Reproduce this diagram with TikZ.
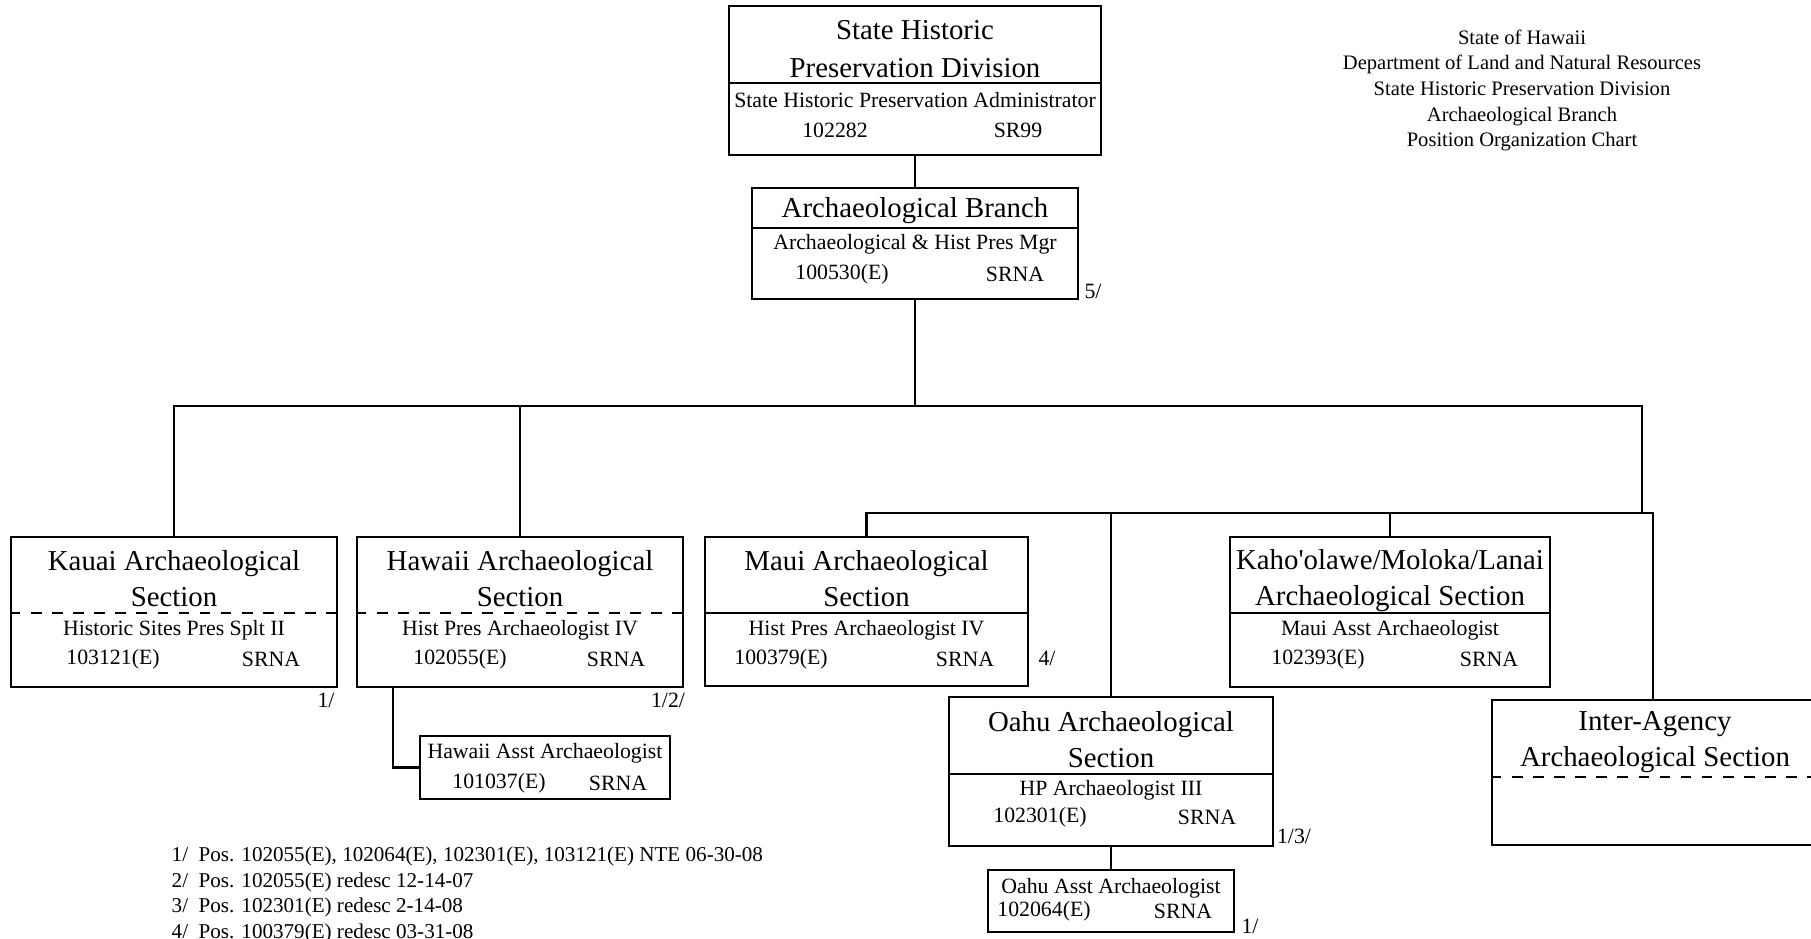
\documentclass[tikz,border=0pt]{standalone}
\usepackage{fontspec}
\setmainfont{Liberation Serif}
\tikzset{box/.style={rectangle,draw,semithick,inner sep=0pt}}
\tikzset{ttl/.style={align=center,inner sep=0pt,font=\fontsize{8.2}{10.2}\selectfont}}
\tikzset{sub/.style={inner sep=0pt,font=\fontsize{6.2}{7.4}\selectfont}}
\tikzset{hdr/.style={align=center,inner sep=0pt,font=\fontsize{5.85}{7.3}\selectfont}}
\tikzset{fn/.style={align=left,anchor=west,inner sep=0pt,font=\fontsize{6}{7.25}\selectfont}}
\tikzset{wire/.style={semithick}}
\tikzset{divider/.style={thin}}

\begin{document}
\begin{tikzpicture}[x=0.01cm,y=-0.01cm]
\useasboundingbox (0,0) rectangle (1811,938);

% heading
\node[hdr] (head) at (1522,90.5) {State of Hawaii\\Department of Land and Natural Resources\\State Historic Preservation Division\\Archaeological Branch\\Position Organization Chart};

% division
\node[box,minimum width=3.72cm,minimum height=1.49cm] (shpd) at (915,80.5) {};
\node[ttl,font=\fontsize{8.2}{11}\selectfont] (shpdT) at (915,49) {State Historic\\Preservation Division};
\draw[divider] (shpd.west |- 0,83) -- (shpd.east |- 0,83);
\node[sub] (shpdP) at (915,100) {State Historic Preservation Administrator};
\node[sub] (shpdN) at (835,130) {102282};
\node[sub] (shpdC) at (1018,130) {SR99};

% branch
\node[box,minimum width=3.26cm,minimum height=1.11cm] (branch) at (915,243.5) {};
\node[ttl] (branchT) at (915,211) {Archaeological Branch};
\draw[divider] (branch.west |- 0,228) -- (branch.east |- 0,228);
\node[sub] (branchP) at (915,244) {Archaeological \& Hist Pres Mgr};
\node[sub] (branchN) at (842,274) {100530(E)};
\node[sub] (branchC) at (1015,274) {SRNA};
\node[sub] (note5) at (1093,291) {5/};

% kauai
\node[box,minimum width=3.26cm,minimum height=1.5cm] (kauai) at (174,612) {};
\node[ttl] (kauaiT) at (174,579) {Kauai Archaeological\\Section};
\draw[divider,dashed] (kauai.west |- 0,613) -- (kauai.east |- 0,613);
\node[sub] (kauaiP) at (174,630) {Historic Sites Pres Splt II};
\node[sub] (kauaiN) at (113,659) {103121(E)};
\node[sub] (kauaiC) at (271,659) {SRNA};
\node[sub] (noteK) at (326,700) {1/};

% hawaii
\node[box,minimum width=3.26cm,minimum height=1.5cm] (hawaii) at (520,612) {};
\node[ttl] (hawaiiT) at (520,579) {Hawaii Archaeological\\Section};
\draw[divider,dashed] (hawaii.west |- 0,613) -- (hawaii.east |- 0,613);
\node[sub] (hawaiiP) at (520,630) {Hist Pres Archaeologist IV};
\node[sub] (hawaiiN) at (460,659) {102055(E)};
\node[sub] (hawaiiC) at (616,659) {SRNA};
\node[sub] (noteH) at (668,700) {1/2/};

\node[box,minimum width=2.5cm,minimum height=0.63cm] (hasst) at (545,767.5) {};
\node[sub] (hasstP) at (545,753) {Hawaii Asst Archaeologist};
\node[sub] (hasstN) at (499,783) {101037(E)};
\node[sub] (hasstC) at (618,783) {SRNA};

% maui
\node[box,minimum width=3.23cm,minimum height=1.49cm] (maui) at (866.5,611.5) {};
\node[ttl] (mauiT) at (866.5,579) {Maui Archaeological\\Section};
\draw[divider] (maui.west |- 0,613) -- (maui.east |- 0,613);
\node[sub] (mauiP) at (866.5,630) {Hist Pres Archaeologist IV};
\node[sub] (mauiN) at (781,659) {100379(E)};
\node[sub] (mauiC) at (965,659) {SRNA};
\node[sub] (noteM) at (1047,658) {4/};

% kaho'olawe
\node[box,minimum width=3.2cm,minimum height=1.5cm] (kaho) at (1390,612) {};
\node[ttl] (kahoT) at (1390,581) {Kaho\textquotesingle olawe/Moloka/Lanai\\Archaeological Section};
\draw[divider] (kaho.west |- 0,613) -- (kaho.east |- 0,613);
\node[sub] (kahoP) at (1390,630) {Maui Asst Archaeologist};
\node[sub] (kahoN) at (1318,659) {102393(E)};
\node[sub] (kahoC) at (1489,659) {SRNA};

% oahu
\node[box,minimum width=3.23cm,minimum height=1.49cm] (oahu) at (1111,771.5) {};
\node[ttl] (oahuT) at (1111,740) {Oahu Archaeological\\Section};
\draw[divider] (oahu.west |- 0,774) -- (oahu.east |- 0,774);
\node[sub] (oahuP) at (1111,790) {HP Archaeologist III};
\node[sub] (oahuN) at (1040,817) {102301(E)};
\node[sub] (oahuC) at (1207,817) {SRNA};
\node[sub] (noteO) at (1294,836) {1/3/};

\node[box,minimum width=2.46cm,minimum height=0.62cm] (oasst) at (1111,901) {};
\node[sub] (oasstP) at (1111,888) {Oahu Asst Archaeologist};
\node[sub] (oasstN) at (1044,911) {102064(E)};
\node[sub] (oasstC) at (1183,911) {SRNA};
\node[sub] (noteA) at (1250,926) {1/};

% inter-agency
\node[box,minimum width=3.22cm,minimum height=1.45cm] (inter) at (1653,772.5) {};
\node[ttl] (interT) at (1655,742) {Inter-Agency\\Archaeological Section};
\draw[divider,dashed] (inter.west |- 0,777) -- (inter.east |- 0,777);

% lines
\coordinate (bus) at (915,406);
\coordinate (jog) at (1642,513);
\draw[wire] (shpd.south) -- (branch.north);
\draw[wire] (branch.south) -- (bus) -| (kauai.north);
\draw[wire] (bus) -| (hawaii.north);
\draw[wire] (bus) -| (jog) -| (inter.north);
\draw[wire] (jog) -| (maui.north);
\draw[wire] (jog) -| (oahu.north);
\draw[wire] (jog) -| (kaho.north);
\draw[wire] ([xshift=0.37cm]hawaii.south west) |- (hasst.west);
\draw[wire] (oahu.south) -- (oasst.north);

% footnotes
\node[fn] (notes) at (171,895) {1/\enspace Pos. 102055(E), 102064(E), 102301(E), 103121(E) NTE 06-30-08\\2/\enspace Pos. 102055(E) redesc 12-14-07\\3/\enspace Pos. 102301(E) redesc 2-14-08\\4/\enspace Pos. 100379(E) redesc 03-31-08};
\end{tikzpicture}
\end{document}
